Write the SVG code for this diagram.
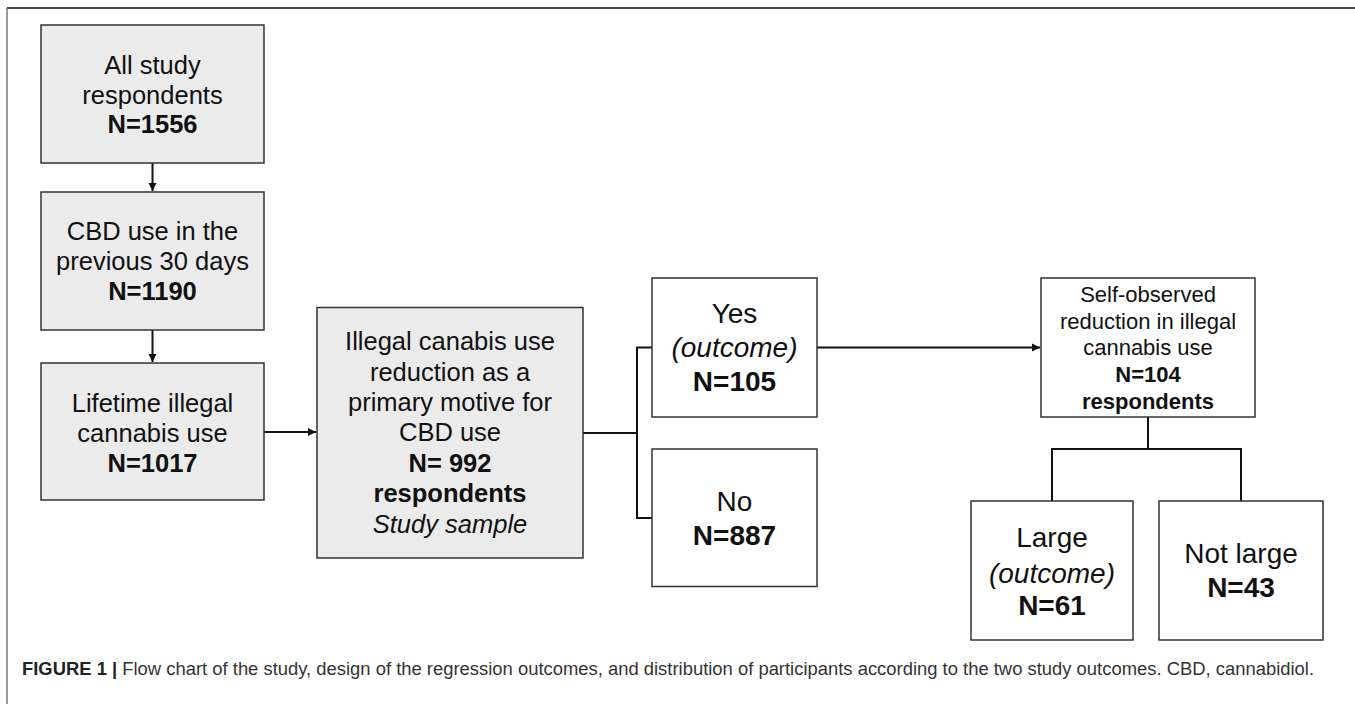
<svg xmlns="http://www.w3.org/2000/svg" width="1355" height="704" viewBox="0 0 1355 704">
<style>
.box{stroke:#333;stroke-width:1.5}
.g{fill:#ebebeb}
.w{fill:#ffffff}
text{font-family:"Liberation Sans",Arial,sans-serif;fill:#111;text-anchor:middle}
.t25{font-size:25.5px}
.t28{font-size:28px}
.t22{font-size:22px}
.b{font-weight:bold}
.i{font-style:italic}
.c{stroke:#111;stroke-width:2;fill:none}
.cap{font-size:18px;text-anchor:start;fill:#333}
</style>
<defs>
<marker id="ah" markerWidth="10" markerHeight="10" refX="9" refY="5" orient="auto" markerUnits="userSpaceOnUse">
<path d="M1,1 L9,5 L1,9 Z" fill="#111"/>
</marker>
</defs>
<rect width="1355" height="704" fill="#fff"/>
<g id="frame">
<line x1="7" y1="8" x2="1355" y2="8" stroke="#444" stroke-width="2"/>
<line x1="7" y1="8" x2="7" y2="704" stroke="#777" stroke-width="1.5"/>
</g>
<g id="connectors">
<line class="c" x1="152.5" y1="163" x2="152.5" y2="191" marker-end="url(#ah)"/>
<line class="c" x1="152.5" y1="330" x2="152.5" y2="362" marker-end="url(#ah)"/>
<line class="c" x1="264" y1="432" x2="316" y2="432" marker-end="url(#ah)"/>
<polyline class="c" points="583,433 637,433"/>
<polyline class="c" points="652,347.5 637,347.5 637,518 652,518"/>
<line class="c" x1="817" y1="347.5" x2="1040" y2="347.5" marker-end="url(#ah)"/>
<line class="c" x1="1148" y1="417" x2="1148" y2="449"/>
<polyline class="c" points="1052,501 1052,449 1241,449 1241,501"/>
</g>
<g id="n1">
<rect class="box g" x="41" y="25" width="223" height="138"/>
<text class="t25" x="152.5" y="74">All study</text>
<text class="t25" x="152.5" y="103.5">respondents</text>
<text class="t25 b" x="152.5" y="133">N=1556</text>
</g>
<g id="n2">
<rect class="box g" x="41" y="192" width="223" height="138"/>
<text class="t25" x="152.5" y="240">CBD use in the</text>
<text class="t25" x="152.5" y="269.5">previous 30 days</text>
<text class="t25 b" x="152.5" y="299.5">N=1190</text>
</g>
<g id="n3">
<rect class="box g" x="41" y="363" width="223" height="137"/>
<text class="t25" x="152.5" y="411.5">Lifetime illegal</text>
<text class="t25" x="152.5" y="441.5">cannabis use</text>
<text class="t25 b" x="152.5" y="471.5">N=1017</text>
</g>
<g id="n4">
<rect class="box g" x="317" y="307.5" width="266" height="250.5"/>
<text class="t25" x="450" y="350">Illegal canabis use</text>
<text class="t25" x="450" y="380.5">reduction as a</text>
<text class="t25" x="450" y="411">primary motive for</text>
<text class="t25" x="450" y="441">CBD use</text>
<text class="t25 b" x="450" y="471.5">N= 992</text>
<text class="t25 b" x="450" y="502">respondents</text>
<text class="t25 i" x="450" y="532.5">Study sample</text>
</g>
<g id="n5">
<rect class="box w" x="652" y="278" width="165" height="139"/>
<text class="t28" x="734.5" y="323">Yes</text>
<text class="t28 i" x="734.5" y="356.5">(outcome)</text>
<text class="t28 b" x="734.5" y="391">N=105</text>
</g>
<g id="n6">
<rect class="box w" x="652" y="449" width="165" height="137.5"/>
<text class="t28" x="734.5" y="510.5">No</text>
<text class="t28 b" x="734.5" y="545">N=887</text>
</g>
<g id="n7">
<rect class="box w" x="1041" y="278" width="214" height="139"/>
<text class="t22" x="1148" y="301.5">Self-observed</text>
<text class="t22" x="1148" y="328.5">reduction in illegal</text>
<text class="t22" x="1148" y="355">cannabis use</text>
<text class="t22 b" x="1148" y="382">N=104</text>
<text class="t22 b" x="1148" y="408.5">respondents</text>
</g>
<g id="n8">
<rect class="box w" x="971" y="501" width="162" height="139"/>
<text class="t28" x="1052" y="546.5">Large</text>
<text class="t28 i" x="1052" y="582.5">(outcome)</text>
<text class="t28 b" x="1052" y="615">N=61</text>
</g>
<g id="n9">
<rect class="box w" x="1159" y="501" width="164" height="139"/>
<text class="t28" x="1241" y="563">Not large</text>
<text class="t28 b" x="1241" y="596.5">N=43</text>
</g>
<g id="caption">
<text class="cap" x="22" y="675" textLength="1292" lengthAdjust="spacingAndGlyphs"><tspan font-weight="bold" fill="#222">FIGURE 1 |</tspan> Flow chart of the study, design of the regression outcomes, and distribution of participants according to the two study outcomes. CBD, cannabidiol.</text>
</g>
</svg>
